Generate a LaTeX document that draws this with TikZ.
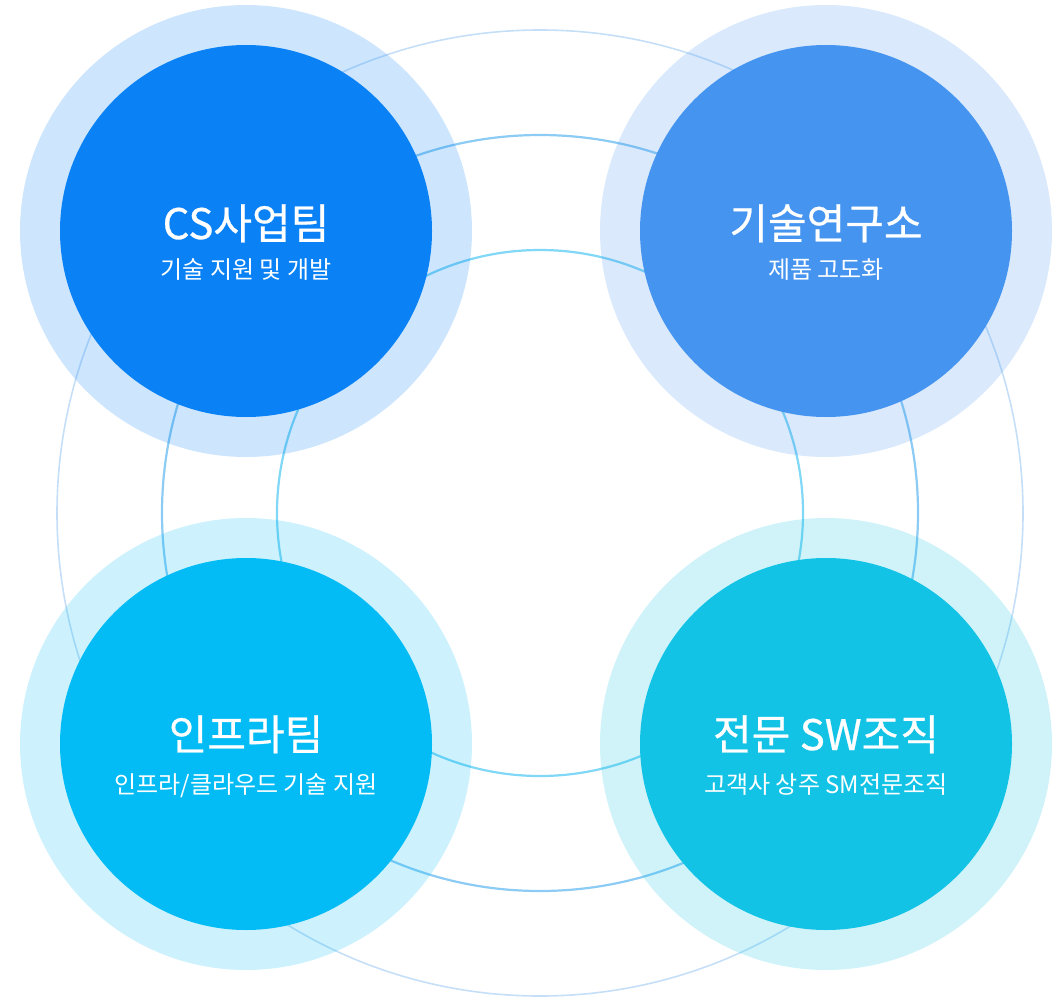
\documentclass[tikz,border=0pt]{standalone}
\usepackage{fontspec}
\setmainfont{Noto Sans CJK KR}
\newfontfamily\titlefont[FakeBold=0.6]{Noto Sans CJK KR}
\usepackage{xcolor}
\usetikzlibrary{positioning, calc}

\definecolor{csblue}{HTML}{0A82F5}
\definecolor{labblue}{HTML}{4594F0}
\definecolor{infrablue}{HTML}{03BCF5}
\definecolor{swcyan}{HTML}{12C3E6}
\definecolor{ringouter}{HTML}{C6DFF8}
\definecolor{ringmid}{HTML}{8CCBF4}
\definecolor{ringinner}{HTML}{80D7F6}

\begin{document}
\begin{tikzpicture}[
  x=1pt, y=-1pt,
  halo/.style={circle, inner sep=0pt, minimum size=452pt, fill opacity=0.2},
  core/.style={circle, inner sep=0pt, minimum size=372pt},
  teamtitle/.style={text=white, font=\titlefont\fontsize{42}{48}\selectfont, inner sep=0pt, anchor=base},
  teamsub/.style={text=white, font=\fontsize{24}{28}\selectfont, inner sep=0pt, anchor=base}
]
\useasboundingbox (0,0) rectangle (1059,998);

% Background rings
\coordinate (mid) at (540,513);
\foreach \r/\col/\w in {483/ringouter/1.6pt, 378/ringmid/2.2pt, 263/ringinner/2.2pt} {
  \draw[\col, line width=\w] (mid) circle[radius=\r pt];
}

% Halos -- translucent, rings show through
\node[halo, fill=csblue] (cs halo) at (246,231) {};
\node[halo, fill=labblue] (lab halo) at (826,231) {};
\node[halo, fill=infrablue] (infra halo) at (246,744) {};
\node[halo, fill=swcyan] (sw halo) at (826,744) {};

% Team circles
\node[core, fill=csblue] (cs) at (cs halo) {};
\node[core, fill=labblue] (lab) at (lab halo) {};
\node[core, fill=infrablue] (infra) at (infra halo) {};
\node[core, fill=swcyan] (sw) at (sw halo) {};

% Labels
\node[teamtitle] (cs title) at ([yshift=-8pt]cs.center) {CS사업팀};
\node[teamsub] (cs sub) at ([yshift=-47pt]cs.center) {기술 지원 및 개발};
\node[teamtitle] (lab title) at ([yshift=-8pt]lab.center) {기술연구소};
\node[teamsub] (lab sub) at ([yshift=-47pt]lab.center) {제품 고도화};
\node[teamtitle] (infra title) at ([yshift=-6pt]infra.center) {인프라팀};
\node[teamsub] (infra sub) at ([yshift=-49pt]infra.center) {인프라/클라우드 기술 지원};
\node[teamtitle] (sw title) at ([yshift=-6pt]sw.center) {전문 SW조직};
\node[teamsub] (sw sub) at ([yshift=-49pt]sw.center) {고객사 상주 SM전문조직};

\end{tikzpicture}
\end{document}
